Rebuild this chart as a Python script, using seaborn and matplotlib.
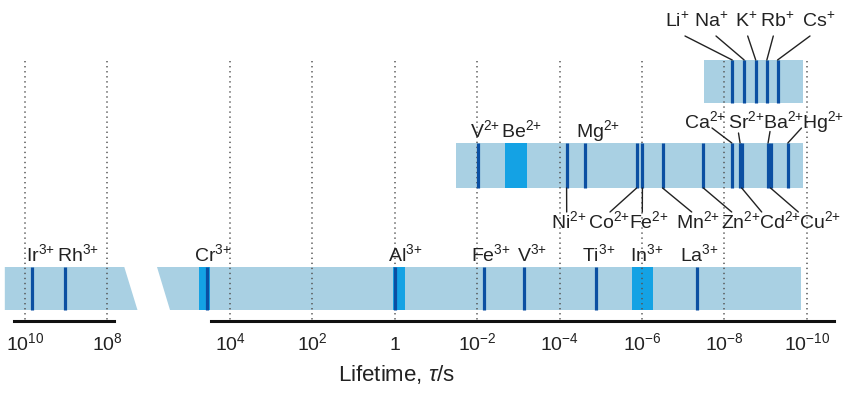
import matplotlib
matplotlib.use("Agg")
import matplotlib.pyplot as plt
import seaborn as sns
from matplotlib.patches import Polygon
from matplotlib.transforms import Affine2D

# ---------------- data: log10(lifetime / s) ----------------
# trivalent ions (bottom row)
ions3_lines = ["Ir", "Rh", "Cr", "Al", "Fe", "V", "Ti", "La"]
ions3_logtau = [9.83, 9.02, 4.56, 0.0, -2.17, -3.13, -4.88, -7.33]
ions3_bands = ["Cr", "Al", "In"]
ions3_band_hi = [4.75, 0.04, -5.75]
ions3_band_lo = [4.48, -0.25, -6.27]

# divalent ions (middle row)
ions2_lines = ["V", "Ni", "Mg", "Co", "Fe", "Mn", "Zn", "Ca", "Sr", "Cd", "Ba", "Cu", "Hg"]
ions2_logtau = [-2.03, -4.17, -4.62, -5.87, -6.01, -6.50, -7.49, -8.18, -8.38, -8.42, -9.06, -9.12, -9.54]
ions2_bands = ["Be"]
ions2_band_hi = [-2.67]
ions2_band_lo = [-3.20]

# monovalent ions (top row)
ions1_lines = ["Li", "Na", "K", "Rb", "Cs"]
ions1_logtau = [-8.19, -8.48, -8.76, -9.03, -9.29]

# extents of the background bars (log10 tau)
row3_left_piece = [10.49, 7.59, 7.27]      # start, end(top), end(bottom)
row3_right_piece = [5.77, 5.46, -9.86]     # start(top), start(bottom), end
row2_extent = [-1.49, -9.91]
row1_extent = [-7.50, -9.91]

# axis ticks
left_ticks = [10, 8]
right_ticks = [4, 2, 0, -2, -4, -6, -8, -10]

# ---------------- style ----------------
LIGHT = "#a9d0e3"
BRIGHT = "#14a2e4"
DARK = "#0b4fa2"
sns.set_theme(style="white")
plt.rcParams["font.family"] = ["Liberation Sans", "DejaVu Sans"]
plt.rcParams["mathtext.fontset"] = "custom"
plt.rcParams["mathtext.rm"] = "Liberation Sans"
plt.rcParams["mathtext.it"] = "Liberation Sans:italic"
plt.rcParams["mathtext.default"] = "regular"

W, H = 866, 399
AX_BOTTOM = 321          # pixel row of the axis line
fig = plt.figure(figsize=(W / 100, H / 100), dpi=100)
SPLIT = 150
axL = fig.add_axes([0, (H - AX_BOTTOM) / H, SPLIT / W, AX_BOTTOM / H])
axR = fig.add_axes([SPLIT / W, (H - AX_BOTTOM) / H, (W - SPLIT) / W, AX_BOTTOM / H])

PPD = 41.2  # pixels per decade
# left axis: 10^10 at pixel 25 ; right axis: 10^4 at pixel 230
axL.set_xscale("log")
axR.set_xscale("log")
axL.set_xlim(10 ** (10 + 25 / PPD), 10 ** (10 - (SPLIT - 25) / PPD))
axR.set_xlim(10 ** (4 + (230 - SPLIT) / PPD), 10 ** (4 - (W - 230) / PPD))
for ax in (axL, axR):
    ax.set_ylim(AX_BOTTOM, 0)
    ax.patch.set_alpha(0)
    for s in ("top", "left", "right"):
        ax.spines[s].set_visible(False)
    ax.spines["bottom"].set_linewidth(2.2)
    ax.spines["bottom"].set_color("#111111")
    ax.set_yticks([])
    ax.minorticks_off()
    ax.tick_params(axis="x", which="both", length=0, pad=21, labelsize=14, colors="#222222")

axL.spines["bottom"].set_bounds(10 ** (10 + 11 / PPD), 10 ** (10 - 89 / PPD))
axR.spines["bottom"].set_bounds(10 ** (4 + 19 / PPD), 10 ** (4 - 604 / PPD))


def tick_label(e):
    return "1" if e == 0 else r"$10^{%d}$" % e


axL.set_xticks([10.0 ** e for e in left_ticks], [tick_label(e) for e in left_ticks])
axR.set_xticks([10.0 ** e for e in right_ticks], [tick_label(e) for e in right_ticks])
axL.xaxis.set_minor_locator(matplotlib.ticker.NullLocator())
axR.xaxis.set_minor_locator(matplotlib.ticker.NullLocator())
for ax in (axL, axR):
    for lab in ax.get_xticklabels():
        lab.set_va("baseline")

axR.set_xlabel(r"Lifetime, $\mathit{\tau}$/s", fontsize=16, color="#222222")
axR.xaxis.set_label_coords((397 - SPLIT) / (W - SPLIT), -(381 - AX_BOTTOM) / AX_BOTTOM)
axR.xaxis.label.set_va("baseline")

# pixel helper for text layout (x in figure pixels from left)
pix = Affine2D().scale(1 / W, -1 / H).translate(0, 1) + fig.transFigure


def px2x(ax, px):
    return ax.transData.inverted().transform(pix.transform((px, 0)))[0]


T = lambda v: 10.0 ** v

# ---------------- rows ----------------
ROW3 = (267, 310)
ROW2 = (143, 188)
ROW1 = (60, 103)

# background bars
axL.add_patch(Polygon([(T(row3_left_piece[0]), ROW3[0]), (T(row3_left_piece[1]), ROW3[0]),
                       (T(row3_left_piece[2]), ROW3[1]), (T(row3_left_piece[0]), ROW3[1])],
                      closed=True, facecolor=LIGHT, edgecolor="none", zorder=1))
axR.add_patch(Polygon([(T(row3_right_piece[0]), ROW3[0]), (T(row3_right_piece[2]), ROW3[0]),
                       (T(row3_right_piece[2]), ROW3[1]), (T(row3_right_piece[1]), ROW3[1])],
                      closed=True, facecolor=LIGHT, edgecolor="none", zorder=1))
axR.fill_between([T(row2_extent[0]), T(row2_extent[1])], ROW2[0], ROW2[1],
                 color=LIGHT, lw=0, zorder=1)
axR.fill_between([T(row1_extent[0]), T(row1_extent[1])], ROW1[0], ROW1[1],
                 color=LIGHT, lw=0, zorder=1)

# bright bands
for hi, lo in zip(ions3_band_hi, ions3_band_lo):
    axR.fill_between([T(hi), T(lo)], ROW3[0], ROW3[1], color=BRIGHT, lw=0, zorder=2)
for hi, lo in zip(ions2_band_hi, ions2_band_lo):
    axR.fill_between([T(hi), T(lo)], ROW2[0], ROW2[1], color=BRIGHT, lw=0, zorder=2)

# dotted decade lines
axL.vlines([T(e) for e in left_ticks], 61, AX_BOTTOM, colors="#555555",
           linestyles=(0, (0.9, 2.4)), lw=1.1, zorder=3)
axR.vlines([T(e) for e in right_ticks], 61, AX_BOTTOM, colors="#555555",
           linestyles=(0, (0.9, 2.4)), lw=1.1, zorder=3)

# dark lines
LW = 2.3
for name, v in zip(ions3_lines, ions3_logtau):
    ax = axL if v > 7 else axR
    ax.vlines(T(v), ROW3[0], ROW3[1], colors=DARK, lw=LW, zorder=4)
axR.vlines([T(v) for v in ions2_logtau], ROW2[0], ROW2[1], colors=DARK, lw=LW, zorder=4)
axR.vlines([T(v) for v in ions1_logtau], ROW1[0], ROW1[1], colors=DARK, lw=LW, zorder=4)

# ---------------- labels (layout in figure pixels) ----------------
FS = 14
TXT = "#222222"


def label(ax, name, charge, px, py):
    ax.text(px2x(ax, px), py, name + r"$^{%s{+}}$" % charge, ha="center", va="baseline",
            fontsize=FS, color=TXT, zorder=6)


# bottom row labels
lab3 = {"Ir": 40.5, "Rh": 78, "Cr": 213, "Al": 405, "Fe": 491, "V": 532, "Ti": 599, "In": 647, "La": 699}
for n, px in lab3.items():
    label(axL if px < SPLIT else axR, n, "3", px, 261)

# middle row, above
lab2_top = {"V": 485.5, "Be": 521.5, "Mg": 598}
for n, px in lab2_top.items():
    label(axR, n, "2", px, 137)
lab2_top_lead = {"Ca": (705, 712, 128), "Sr": (746, 738.5, 133), "Ba": (783, 770, 131.5), "Hg": (823, 801.5, 128)}
for n, (px, lx, ly) in lab2_top_lead.items():
    label(axR, n, "2", px, 128.5)
    v = ions2_logtau[ions2_lines.index(n)]
    axR.plot([px2x(axR, lx), T(v)], [ly, ROW2[0]], color="#222222", lw=1.0, zorder=5)

# middle row, below
lab2_bot = {"Ni": (569, 566.7), "Co": (609, 610), "Fe": (649, 642.3), "Mn": (698, 691.7),
            "Zn": (741, 731.7), "Cd": (780, 761.7), "Cu": (820, 798.3)}
for n, (px, lx) in lab2_bot.items():
    label(axR, n, "2", px, 228.5)
    v = ions2_logtau[ions2_lines.index(n)]
    axR.plot([T(v), px2x(axR, lx)], [ROW2[1], 212], color="#222222", lw=1.0, zorder=5)

# top row
lab1 = {"Li": (677, 685), "Na": (711, 716), "K": (746, 747.7), "Rb": (777, 773.3), "Cs": (819, 810)}
for n, (px, lx) in lab1.items():
    label(axR, n, "", px, 27)
    v = ions1_logtau[ions1_lines.index(n)]
    axR.plot([px2x(axR, lx), T(v)], [36, ROW1[0]], color="#222222", lw=1.0, zorder=5)

fig.savefig("out.png", dpi=100)
